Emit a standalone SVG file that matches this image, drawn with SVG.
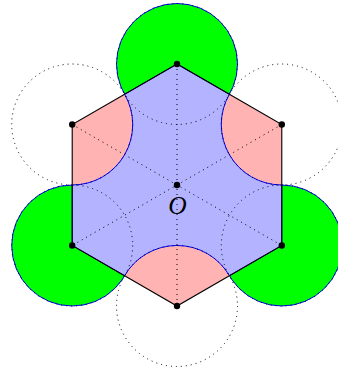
<svg xmlns="http://www.w3.org/2000/svg" width="338" height="373" viewBox="0 0 338 373">
<style>
.green{fill:#00ff00;stroke:#0000ff;stroke-width:1}
.dotc{fill:none;stroke:#000;stroke-width:1;stroke-dasharray:1 4}
.dotl{stroke:#000;stroke-width:1;stroke-dasharray:1 4}
.pt{fill:#000}
.lbl{font-family:"Liberation Serif","DejaVu Serif",serif;font-style:italic;font-size:25.5px;fill:#000}
</style>
<rect width="338" height="373" fill="#fff"/>
<g id="green-circles">
<circle id="circle-T" class="green" cx="177" cy="64" r="60.5"/>
<circle id="circle-LL" class="green" cx="72.21" cy="245.5" r="60.5"/>
<circle id="circle-LR" class="green" cx="281.79" cy="245.5" r="60.5"/>
</g>
<g id="hexagon">
<polygon points="177,64 72.21,124.5 72.21,245.5 177,306 281.79,245.5 281.79,124.5" fill="#ffb3b3" stroke="none"/>
<path id="blue-region" d="M177,64 L124.6,94.25 A60.5,60.5 0 0 1 72.21,185 L72.21,245.5 L124.6,275.75 A60.5,60.5 0 0 1 229.4,275.75 L281.79,245.5 L281.79,185 A60.5,60.5 0 0 1 229.4,94.25 Z" fill="#b3b3ff" stroke="#0000ff" stroke-width="1"/>
<polygon points="177,64 72.21,124.5 72.21,245.5 177,306 281.79,245.5 281.79,124.5" fill="none" stroke="#000" stroke-width="1.1"/>
</g>
<g id="dotted-circles">
<circle class="dotc" cx="177" cy="64" r="60.5"/>
<circle class="dotc" cx="72.21" cy="124.5" r="60.5"/>
<circle class="dotc" cx="72.21" cy="245.5" r="60.5"/>
<circle class="dotc" cx="177" cy="306" r="60.5"/>
<circle class="dotc" cx="281.79" cy="245.5" r="60.5"/>
<circle class="dotc" cx="281.79" cy="124.5" r="60.5"/>
</g>
<g id="connectors">
<line class="dotl" x1="177" y1="64" x2="177" y2="306"/>
<line class="dotl" x1="72.21" y1="124.5" x2="281.79" y2="245.5"/>
<line class="dotl" x1="281.79" y1="124.5" x2="72.21" y2="245.5"/>
</g>
<g id="points">
<circle id="pt-T" class="pt" cx="177" cy="64" r="3.2"/>
<circle id="pt-UL" class="pt" cx="72.21" cy="124.5" r="3.2"/>
<circle id="pt-LL" class="pt" cx="72.21" cy="245.5" r="3.2"/>
<circle id="pt-B" class="pt" cx="177" cy="306" r="3.2"/>
<circle id="pt-LR" class="pt" cx="281.79" cy="245.5" r="3.2"/>
<circle id="pt-UR" class="pt" cx="281.79" cy="124.5" r="3.2"/>
<g id="node-O">
<circle class="pt" cx="177" cy="185" r="3.2"/>
<text class="lbl" x="177.5" y="213.5" text-anchor="middle">O</text>
</g>
</g>
</svg>
